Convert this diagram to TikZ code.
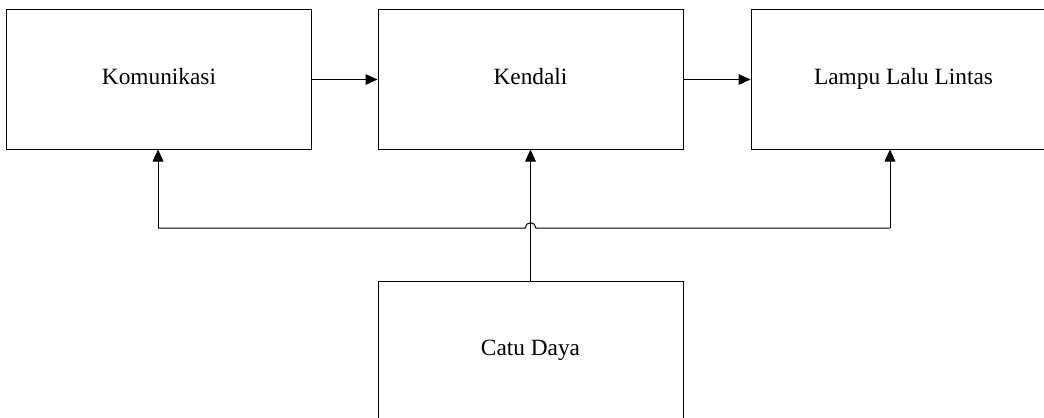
\documentclass[tikz,border=0pt]{standalone}
\usepackage{fontspec}
\setmainfont{Liberation Serif}
\usetikzlibrary{arrows.meta,calc,positioning}

\tikzset{
	blok/.style={draw, line width=.75pt, minimum width=228.75pt, minimum height=104.25pt,
		inner sep=0pt, text height=12pt, text depth=4pt, font=\fontsize{17.5}{20}\selectfont},
	arr/.style={line width=.75pt, -{Triangle[length=9pt,width=8pt]}},
}

\begin{document}
\begin{tikzpicture}[x=.75pt,y=-.75pt]
	\useasboundingbox (0,0) rectangle (1044,417);
	% Boxes
	\node[blok] (kom) at (159,79.5) {Komunikasi};
	\node[blok] (ken) at (530.5,79.5) {Kendali};
	\node[blok] (lampu) at (903.5,79.5) {Lampu Lalu Lintas};
	\node[blok] (catu) at (530.5,350.5) {Catu Daya};
	% Arrows
	\draw[arr] (kom) -- (ken);
	\draw[arr] (ken) -- (lampu);
	\draw[arr] (catu) -- (ken);
	% Bus with jump
	\coordinate (busL) at (158,228);
	\coordinate (busR) at (890,228);
	\draw[line width=.75pt] (busL) -- ([xshift=-4pt]ken.south |- busL)
		arc[start angle=180, end angle=0, radius=4pt] -- (busR);
	\draw[arr] (busL) -- (busL |- kom.south);
	\draw[arr] (busR) -- (busR |- lampu.south);
\end{tikzpicture}
\end{document}
